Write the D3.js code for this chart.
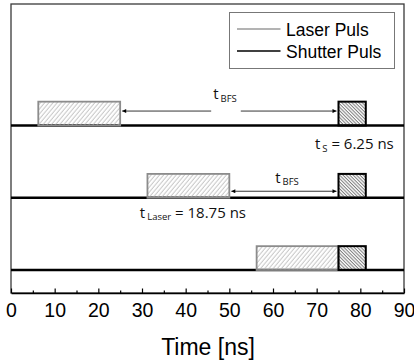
<!DOCTYPE html>
<html>
<head>
<meta charset="utf-8">
<script src="https://cdn.jsdelivr.net/npm/d3@7"></script>
<style>
  body { margin:0; background:#fff; }
  svg { display:block; }
</style>
</head>
<body>
<div id="chart"></div>
<script>
// pulse rows, top to bottom
let levels      = [2, 1, 0]
let laserStart  = [6.25, 31.25, 56.25]
let laserWidth  = 18.75
let shutterStart = 75
let shutterWidth = 6.25
let pulseHeight = 0.33

// t_BFS arrows: [from, to, level, height above baseline]
let arrows = [[25, 75, 2, 0.2], [50, 75, 1, 0.09]]

// annotations: main, subscript, rest, x, y
let notes = [
  { t:"t", sub:"BFS", rest:"", x:46.3, y:2.36, bg:true },
  { t:"t", sub:"BFS", rest:"", x:60.5, y:1.21, bg:false },
  { t:"t", sub:"S", rest:" = 6.25 ns", x:69.6, y:1.67, bg:false },
  { t:"t", sub:"Laser", rest:" = 18.75 ns", x:29.5, y:0.72, bg:false }
]

let majorTicks = [0,10,20,30,40,50,60,70,80,90]
let minorTicks = [5,15,25,35,45,55,65,75,85]
let legendItems = [["Laser Puls", "#9a9a9a"], ["Shutter Puls", "#000"]]

let width = 414, height = 363
let margin = { top:4, left:11, right:10, bottom:70 }

let xScale = d3.scaleLinear().domain([0, 90]).range([margin.left, width - margin.right])
let yScale = d3.scaleLinear().domain([0, 2]).range([270, 125.5])
let yBottom = height - margin.bottom

let svg = d3.select("#chart").append("svg")
  .attr("width", width)
  .attr("height", height)

let defs = svg.append("defs")
defs.append("pattern").attr("id","hatchLaser")
  .attr("patternUnits","userSpaceOnUse").attr("width",3.2).attr("height",10)
  .attr("patternTransform","rotate(40)")
  .append("line").attr("x1",1).attr("x2",1).attr("y1",0).attr("y2",10)
  .attr("stroke","#b0b0b0").attr("stroke-width",0.8)
defs.append("pattern").attr("id","hatchShutter")
  .attr("patternUnits","userSpaceOnUse").attr("width",2.4).attr("height",10)
  .attr("patternTransform","rotate(-45)")
  .append("line").attr("x1",1).attr("x2",1).attr("y1",0).attr("y2",10)
  .attr("stroke","#444").attr("stroke-width",0.8)
let marker = defs.append("marker").attr("id","arrowHead")
  .attr("viewBox","0 0 10 10").attr("refX",10).attr("refY",5)
  .attr("markerWidth",6).attr("markerHeight",4).attr("orient","auto-start-reverse")
  .attr("markerUnits","userSpaceOnUse")
marker.append("path").attr("d","M0,0 L10,5 L0,10 z").attr("fill","#000")

// frame
svg.append("rect")
  .attr("x", xScale(0)).attr("y", margin.top)
  .attr("width", xScale(90) - xScale(0)).attr("height", yBottom - margin.top)
  .attr("fill","none").attr("stroke","#3a3a3a").attr("stroke-width",1.3)

let g = svg.append("g")

// baselines
g.selectAll(".base").data(levels).enter().append("line")
  .attr("x1", xScale(0)).attr("x2", xScale(90))
  .attr("y1", d => yScale(d)).attr("y2", d => yScale(d))
  .attr("stroke","#000").attr("stroke-width",2.5)

// laser pulses
g.selectAll(".laser").data(levels).enter().append("rect")
  .attr("x", (d,i) => xScale(laserStart[i]))
  .attr("y", d => yScale(d + pulseHeight))
  .attr("width", xScale(laserWidth) - xScale(0))
  .attr("height", d => yScale(d) - yScale(d + pulseHeight))
  .attr("fill","url(#hatchLaser)")
  .attr("stroke","#8c8c8c").attr("stroke-width",1.8)

// shutter pulses
g.selectAll(".shutter").data(levels).enter().append("rect")
  .attr("x", xScale(shutterStart))
  .attr("y", d => yScale(d + pulseHeight))
  .attr("width", xScale(shutterWidth) - xScale(0))
  .attr("height", d => yScale(d) - yScale(d + pulseHeight))
  .attr("fill","url(#hatchShutter)")
  .attr("stroke","#000").attr("stroke-width",2)

// arrows
g.selectAll(".arrow").data(arrows).enter().append("line")
  .attr("x1", d => xScale(d[0]) + 2).attr("x2", d => xScale(d[1]) - 2)
  .attr("y1", d => yScale(d[2] + d[3])).attr("y2", d => yScale(d[2] + d[3]))
  .attr("stroke","#000").attr("stroke-width",0.8)
  .attr("marker-start","url(#arrowHead)").attr("marker-end","url(#arrowHead)")

// annotations
notes.forEach(n => {
  let ng = g.append("g")
  let txt = ng.append("text")
    .attr("x", xScale(n.x)).attr("y", yScale(n.y))
    .attr("font-family","'Open Sans', sans-serif").attr("font-size",15).attr("fill","#111")
  txt.append("tspan").text(n.t)
  txt.append("tspan").text(n.sub).attr("font-size",9.5).attr("dy",2.5).attr("dx",2)
  if (n.rest) txt.append("tspan").text(n.rest).attr("dy",-2.5)
  if (n.bg) {
    let bb = txt.node().getBBox()
    ng.insert("rect","text")
      .attr("x", bb.x - 2).attr("y", bb.y)
      .attr("width", bb.width + 6).attr("height", bb.height + 9)
      .attr("fill","#fff")
  }
})

// x axis, ticks pointing inward
let xAxis = d3.axisBottom(xScale).tickValues(majorTicks).tickSizeInner(-4.5).tickSizeOuter(0).tickPadding(10)
let xGroup = svg.append("g").attr("transform",`translate(0,${yBottom})`).call(xAxis)
xGroup.select(".domain").attr("stroke","#000").attr("stroke-width",1.3)
xGroup.selectAll("text").attr("font-family","'Liberation Sans', Arial, sans-serif").attr("font-size",19.5).attr("fill","#000")
xGroup.selectAll(".tick line").attr("stroke","#000").attr("stroke-width",1.2)

let minorAxis = d3.axisBottom(xScale).tickValues(minorTicks).tickSizeInner(-2.5).tickSizeOuter(0).tickFormat("")
let mGroup = svg.append("g").attr("transform",`translate(0,${yBottom})`).call(minorAxis)
mGroup.select(".domain").remove()
mGroup.selectAll(".tick line").attr("stroke","#000").attr("stroke-width",1.2)

svg.append("text").attr("x", 208).attr("y", 355).attr("text-anchor","middle")
  .attr("font-family","'Liberation Sans', Arial, sans-serif").attr("font-size",23)
  .text("Time [ns]")

// legend
let legend = svg.append("g").attr("transform","translate(229.5,12.5)")
legend.append("rect").attr("width",165).attr("height",56)
  .attr("fill","#fff").attr("stroke","#777").attr("stroke-width",1)
let li = legend.selectAll(".li").data(legendItems).enter().append("g")
  .attr("transform",(d,i) => `translate(0,${16.5 + i * 22})`)
li.append("line").attr("x1",7.5).attr("x2",51).attr("y1",0).attr("y2",0)
  .attr("stroke", d => d[1]).attr("stroke-width",1.5)
li.append("text").attr("x",56.5).attr("y",6.5)
  .attr("font-family","'Liberation Sans', Arial, sans-serif").attr("font-size",17.5)
  .text(d => d[0])
</script>
</body>
</html>
